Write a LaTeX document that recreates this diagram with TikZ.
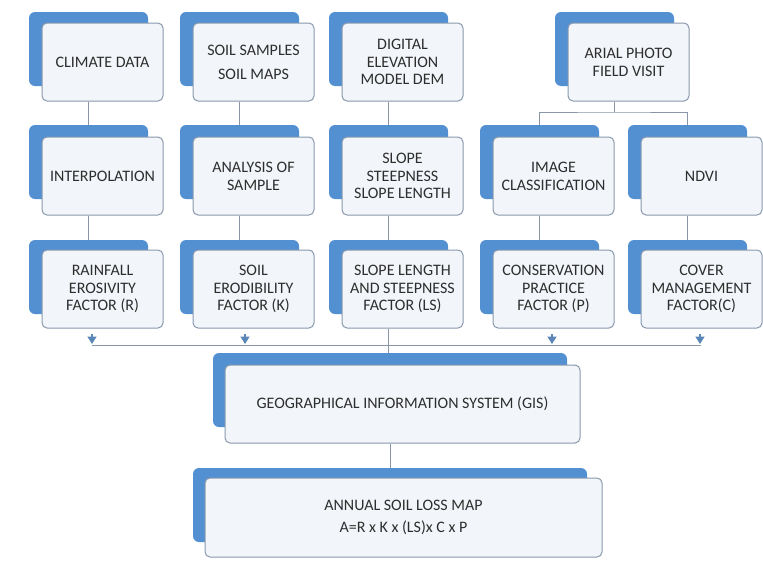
\documentclass[tikz,border=0pt]{standalone}
\usepackage{fontspec}
\setmainfont{Carlito}
\usetikzlibrary{arrows.meta}
\definecolor{backblue}{HTML}{5290D2}
\definecolor{frontfill}{HTML}{F2F5F9}
\definecolor{frontline}{HTML}{8A99AE}
\definecolor{txt}{HTML}{2E2E2E}
\definecolor{conn}{HTML}{8896A8}
\definecolor{arr}{HTML}{5B86B8}
\begin{document}
\begin{tikzpicture}[x=1pt,y=-1pt,
 backbox/.style={draw=none, fill=backblue, rounded corners=6pt, minimum width=119pt, minimum height=74pt, inner sep=0pt},
 frontbox/.style={draw=frontline, line width=1pt, fill=frontfill, rounded corners=5pt, minimum width=121pt, minimum height=78pt, inner sep=0pt, align=center, font=\fontsize{16}{17.8}\selectfont, text=txt},
 conline/.style={draw=conn, line width=1pt},
 tipline/.style={-{Triangle[width=9pt,length=7.5pt]}, draw=arr, fill=arr, line width=1.5pt}]
\useasboundingbox (0,0) rectangle (763,560);
\fill[white] (0,0) rectangle (763,560);

% row 1
\node[backbox] (b11) at (88.5,49) {};
\node[frontbox] (f11) at (102.5,62) {CLIMATE DATA};
\node[backbox] (b12) at (239.5,49) {};
\node[frontbox] (f12) at (253.5,62) {SOIL SAMPLES\\[6pt]SOIL MAPS};
\node[backbox] (b13) at (388.5,49) {};
\node[frontbox] (f13) at (402.5,62) {DIGITAL\\ELEVATION\\MODEL DEM};
\node[backbox] (b14) at (614.5,49) {};
\node[frontbox] (f14) at (628.5,62) {ARIAL PHOTO\\FIELD VISIT};

% row 2
\node[backbox] (b21) at (88.5,162) {};
\node[frontbox] (f21) at (102.5,176) {INTERPOLATION};
\node[backbox] (b22) at (239.5,162) {};
\node[frontbox] (f22) at (253.5,176) {ANALYSIS OF\\SAMPLE};
\node[backbox] (b23) at (388.5,162) {};
\node[frontbox] (f23) at (402.5,176) {SLOPE\\STEEPNESS\\SLOPE LENGTH};
\node[backbox] (b24) at (539.5,162) {};
\node[frontbox] (f24) at (553.5,176) {IMAGE\\CLASSIFICATION};
\node[backbox] (b25) at (687.5,162) {};
\node[frontbox] (f25) at (701.5,176) {NDVI};

% row 3
\node[backbox] (b31) at (88.5,277) {};
\node[frontbox] (f31) at (102.5,289) {RAINFALL\\EROSIVITY\\FACTOR (R)};
\node[backbox] (b32) at (239.5,277) {};
\node[frontbox] (f32) at (253.5,289) {SOIL\\ERODIBILITY\\FACTOR (K)};
\node[backbox] (b33) at (388.5,277) {};
\node[frontbox] (f33) at (402.5,289) {SLOPE LENGTH\\AND STEEPNESS\\FACTOR (LS)};
\node[backbox] (b34) at (539.5,277) {};
\node[frontbox] (f34) at (553.5,289) {CONSERVATION\\PRACTICE\\FACTOR (P)};
\node[backbox] (b35) at (687.5,277) {};
\node[frontbox] (f35) at (701.5,289) {COVER\\MANAGEMENT\\FACTOR(C)};

% GIS and result
\node[backbox, minimum width=354pt] (gisb) at (390,390) {};
\node[frontbox, minimum width=355pt] (gis) at (402.5,404) {\raisebox{-5pt}{GEOGRAPHICAL INFORMATION SYSTEM (GIS)}};
\node[backbox, minimum width=394pt] (annb) at (390,505) {};
\node[frontbox, minimum width=397pt, minimum height=79pt] (ann) at (403.5,517.5) {ANNUAL SOIL LOSS MAP\\[5pt]A=R x K x (LS)x C x P};

% connectors
\foreach \c in {1,2,3} {
  \draw[conline] (b1\c.center |- f1\c.south) -- (b2\c.north);
}
\foreach \c in {1,2,3,4,5} {
  \draw[conline] (b2\c.center |- f2\c.south) -- (b3\c.north);
}
\coordinate (split) at (614.5,112);
\draw[conline] (b14.center |- f14.south) -- (split);
\draw[conline] (b24.north) |- (split) -| (b25.north);

\coordinate (busL) at (92,345);
\coordinate (busR) at (701,345);
\draw[conline] (busL) -- (busR);
\draw[conline] (b33.center |- f33.south) -- (b33.center |- gisb.north);
\foreach \x in {92,245,552,700} {
  \draw[tipline] (\x,334) -- (\x,344);
}
\draw[conline] (gisb.center |- gis.south) -- (annb.north);
\end{tikzpicture}
\end{document}
